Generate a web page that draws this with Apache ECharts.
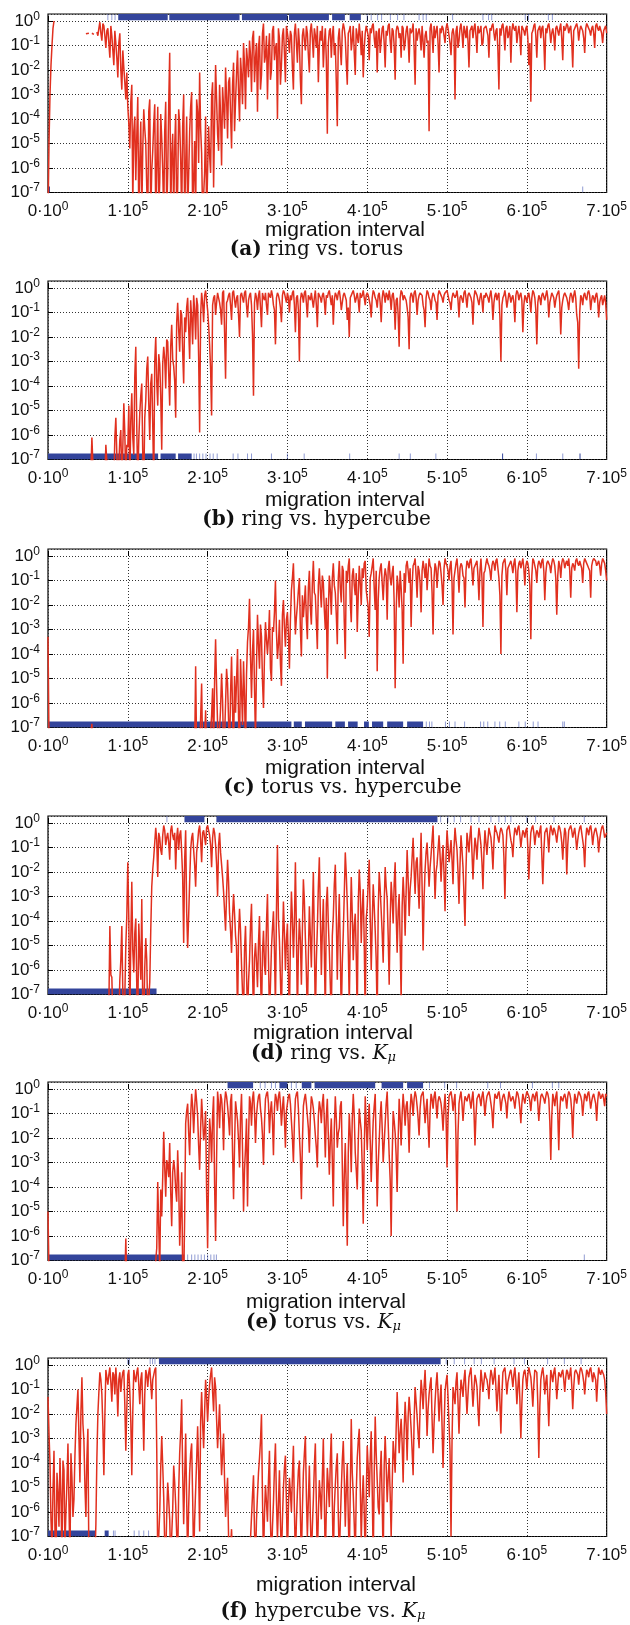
<!DOCTYPE html>
<html><head><meta charset="utf-8">
<script src="https://cdn.jsdelivr.net/npm/echarts@6/dist/echarts.min.js"></script>
<style>html,body{margin:0;padding:0;background:#fff}#chart{width:630px;height:1625px}</style>
</head><body><div id="chart"></div>
<script>
// ---------- DATA ----------
// main arrays: one value every 2500 (x = 0 .. 700000); "Mid" arrays: the values in between (x = 1250 + 2500*i)
const xStep = 2500;
const xTickLabels = ['0·10^0','1·10^5','2·10^5','3·10^5','4·10^5','5·10^5','6·10^5','7·10^5'];
const yTickLabels = ['10^-7','10^-6','10^-5','10^-4','10^-3','10^-2','10^-1','10^0'];
const axisTitle = 'migration interval';
const captionTags = ['(a)','(b)','(c)','(d)','(e)','(f)'];
const captionTexts = ['ring vs. torus','ring vs. hypercube','torus vs. hypercube','ring vs. K_μ','torus vs. K_μ','hypercube vs. K_μ'];

// log10 of p-value; null = no value
const ringTorus = [
-8,-3,-1,0,null,null,null,null,null,null,null,null,null,null,null,null,null,null,null,-0.52,
-0.5,null,-0.5,-0.55,null,-0.6,-0.05,-0.8,-0.2,-1.1,-0.3,-1.5,-0.6,-1.8,-0.9,-2.3,-0.5,-2.8,-1.9,-3.2,
-3.5,-5.2,-2.6,-4.5,-6.5,-3.1,-5.8,-8,-3.6,-5,-8,-3.2,-6.1,-4.2,-8,-3.5,-6.6,-4.8,-8,-3.3,
-6.2,-1.3,-5.5,-8,-3.8,-6.8,-4.2,-8,-3,-5.9,-8,-4.5,-2.9,-6.5,-8,-3.7,-2.1,-5.4,-8,-3.9,
-8,-5.5,-3.1,-6.8,-1.8,-4.6,-2.6,-5.9,-3.5,-1.9,-4.8,-2.3,-5.2,-1.7,-3.3,-1.2,-4.1,-2.2,-0.9,-3.6,
-1.6,-0.8,-2.9,-0.4,-1.5,-3.7,-0.6,-2.2,-0.1,-1.4,-3.2,-0.5,-2,-0.2,-1.1,-4,-0.7,-1.8,-0.3,-2.5,
-0.2,-1.3,-0.6,-2.8,-0.1,-1.7,-0.9,-3.4,-0.3,-1.2,-0.5,-2.1,-0.1,-1.5,-0.6,-0.2,-1.0,-0.8,-1.9,-0.3,
-4.6,-0.4,-1.5,-0.2,-0.9,-4.3,-0.3,-1.8,-0.1,-0.7,-2.6,-0.4,-1.2,-0.2,-2.2,-0.6,-0.1,-1.4,-2.3,-0.5,
-0.2,-1.6,-0.5,-0.1,-1.1,-2.1,-0.3,-0.8,-0.2,-1.9,-0.6,-0.1,-1.3,-0.4,-2.4,-0.2,-0.7,-1.5,-0.3,-0.9,
-0.2,-1.7,-0.5,-0.1,-2.6,-0.8,-0.3,-1.2,-0.2,-0.6,-0.9,-4.5,-0.1,-1.3,-0.7,-0.2,-2.1,-0.5,-0.3,-0.9,
-0.1,-0.6,-1.4,-0.3,-3.2,-0.2,-0.8,-0.1,-1.1,-0.4,-0.2,-1.9,-0.3,-0.7,-0.1,-1.3,-0.5,-0.2,-0.9,-0.3,
-0.2,-1.5,-0.4,-0.1,-0.8,-0.3,-2.8,-0.6,-0.1,-1.2,-0.2,-0.5,-1.7,-0.1,-0.4,-0.9,-0.2,-1.4,-0.3,-0.6,
-0.2,-1.8,-3.3,-0.4,-0.1,-1.5,-0.3,-0.7,-0.2,-2,-0.5,-0.1,-0.9,-0.3,-1.2,-0.2,-0.6,-0.1,-1.6,-0.4,
-0.1,-0.5,-0.2,-1.9,-0.3,-0.1,-0.8,-0.2,-0.4,-1.3,-0.1,-0.3,-0.6,-0.2,-1.1,-0.1,-0.4,-0.2,-0.9,-0.3,
-0.5];
const ringTorusMid = [
-5,-1.8,-0.3,null,null,null,null,null,null,null,null,null,null,null,null,null,null,null,null,-0.5,
-0.5,null,-0.52,null,-0.45,-0.3,-0.5,-0.1,-0.6,-0.4,-0.9,-0.2,-1.2,-0.4,-1.5,-0.9,-2,-1.2,-2.5,-2.1,
-4.2,-3.3,-7.5,-3.9,-4.7,-8,-4.1,-5.2,-4.4,-6.8,-3.7,-8,-5.3,-3.4,-5.9,-8,-3.8,-6.1,-4.5,-8,
-3.4,-8,-4.6,-5.1,-8,-3.6,-5.6,-4.3,-8,-3.9,-6.3,-3.5,-8,-4.9,-3.2,-5.8,-4.4,-8,-6.2,-8,
-4.3,-6.2,-2.5,-4.1,-3.2,-5.3,-3.9,-2.7,-4.4,-3.1,-2.5,-3.8,-2.6,-4.5,-2.1,-2.9,-1.5,-3.4,-1.8,-1.1,
-2.3,-1.4,-0.7,-2.5,-0.9,-1.1,-2.8,-0.5,-1.7,-0.6,-1.2,-2.4,-0.4,-1.6,-0.9,-0.3,-2.6,-0.6,-1.3,-0.2,
-0.8,-0.4,-1.9,-0.5,-0.9,-0.3,-2.4,-0.6,-0.8,-0.2,-1.4,-0.4,-0.7,-0.3,-1.1,-2.5,-0.4,-0.2,-0.9,-1.6,
-0.9,-0.3,-0.6,-1.4,-2.5,-0.7,-1.1,-0.4,-0.3,-1.7,-0.5,-0.2,-0.8,-1.3,-0.3,-0.9,-0.6,-0.4,-1.1,-0.2,
-0.6,-0.3,-0.2,-0.7,-0.4,-0.5,-1.3,-0.3,-0.9,-0.4,-0.2,-0.8,-0.3,-1,-0.4,-0.3,-0.5,-0.2,-1.2,-0.4,
-0.7,-0.3,-0.4,-1.1,-0.3,-0.5,-0.6,-0.2,-1.5,-0.4,-0.8,-0.3,-0.6,-0.2,-0.4,-0.9,-0.3,-0.2,-0.6,-0.3,
-0.3,-0.9,-0.5,-0.6,-0.4,-1.1,-0.3,-0.5,-0.2,-0.7,-0.8,-0.4,-0.2,-0.3,-0.6,-0.2,-0.4,-1,-0.3,-0.2,
-0.6,-0.3,-0.2,-0.5,-0.4,-1.2,-0.3,-0.2,-0.5,-0.3,-0.7,-0.2,-0.4,-0.3,-0.2,-0.5,-0.6,-0.2,-0.4,-0.3,
-0.7,-0.9,-0.5,-0.2,-0.6,-0.4,-0.2,-0.3,-0.8,-0.3,-0.2,-0.4,-0.5,-0.6,-0.3,-0.2,-0.3,-0.7,-0.2,-0.3,
-0.2,-0.3,-0.8,-0.4,-0.2,-0.3,-0.4,-0.2,-0.7,-0.3,-0.2,-0.4,-0.3,-0.5,-0.2,-0.3,-0.2,-0.5,-0.4,-0.2];

const ringHypercube = [
-8,-8,-8,-8,-8,-8,-8,-8,-8,-8,-8,-8,-8,-8,-8,-8,-8,-8,-8,-8,
-8,-8,-6.1,-8,-8,-8,-8,-8,-8,-6.4,-8,-8,-8,-8,-5.3,-8,-6.2,-8,-4.7,-8,
-6.5,-8,-4.3,-6.8,-2.4,-8,-5.1,-3.9,-8,-4.6,-2.8,-6.2,-3.5,-8,-2,-4.8,-3.1,-6.6,-2.4,-4.1,
-2.2,-4.8,-1.5,-3.2,-5.3,-0.6,-2.6,-1.1,-3.9,-1.8,-0.4,-2.9,-1.2,-0.3,-2.1,-0.7,-5.9,-0.2,-1.4,-0.1,
-0.9,-2.3,-5.2,-0.4,-1.1,-0.2,-0.6,-1.5,-0.1,-3.7,-0.5,-0.2,-1.3,-0.1,-0.8,-0.3,-2,-0.2,-0.6,-0.1,
-1.2,-0.3,-0.7,-4.4,-0.2,-0.9,-0.1,-1.6,-0.4,-0.2,-1.1,-0.3,-0.1,-0.7,-2.3,-0.2,-0.5,-1.4,-0.1,-0.4,
-0.2,-1,-0.5,-0.1,-1.8,-0.3,-3,-0.2,-0.6,-0.1,-1.2,-0.4,-0.2,-0.8,-0.1,-1.6,-0.3,-0.6,-0.2,-1.1,
-0.4,-0.1,-0.7,-1.5,-0.2,-0.5,-0.1,-0.9,-0.3,-0.2,-1.3,-2,-0.3,-0.1,-0.6,-0.2,-1,-0.4,-0.1,-0.7,
-0.2,-0.5,-1.2,-0.1,-0.4,-0.8,-0.2,-1.4,-0.1,-0.6,-0.3,-0.1,-0.9,-0.2,-1.7,-0.4,-2.4,-0.1,-0.5,-0.3,
-0.8,-2.5,-0.2,-0.6,-0.1,-1.1,-0.3,-0.2,-0.7,-1.6,-0.1,-0.4,-0.9,-0.2,-0.5,-1.3,-0.1,-0.3,-0.6,-0.2,
-0.1,-0.5,-0.9,-0.2,-0.4,-0.1,-1.2,-0.3,-0.6,-0.1,-0.8,-0.2,-0.4,-1.5,-0.1,-0.3,-0.7,-0.2,-1,-0.4,
-0.2,-0.6,-0.1,-1.3,-0.3,-0.5,-0.2,-3,-0.4,-0.1,-0.8,-0.2,-0.6,-0.3,-1.4,-0.1,-0.5,-0.2,-1.8,-0.3,
-0.6,-0.2,-1,-0.1,-0.4,-2.3,-0.3,-0.7,-0.2,-0.5,-0.1,-1.2,-0.4,-0.2,-0.8,-0.3,-0.1,-1.9,-0.5,-0.2,
-0.4,-0.9,-0.2,-0.6,-0.1,-1.1,-3.3,-0.3,-0.7,-0.2,-0.5,-0.1,-0.9,-0.3,-0.6,-0.2,-1.2,-0.4,-0.7,-0.3,
-1.3];
const ringHypercubeMid = [
-8,-8,-8,-8,-8,-8,-8,-8,-8,-8,-8,-8,-8,-8,-8,-8,-8,-8,-8,-8,
-8,-7.5,-7.2,-8,-8,-8,-8,-8,-7.8,-7.1,-8,-8,-8,-6.1,-6.8,-7.2,-5.8,-6.5,-5.9,-6.4,
-4.8,-5.4,-6.1,-3.6,-5.7,-6.2,-4.4,-6.8,-5.3,-3.3,-4.7,-3.9,-5.6,-3,-3.8,-2.7,-4.4,-3.1,-2.9,-2.1,
-3.5,-2.4,-2.9,-3.8,-1.4,-1.7,-0.9,-2.6,-1.2,-0.8,-1.6,-0.5,-2.3,-0.9,-0.4,-2.8,-1.1,-0.6,-0.3,-0.5,
-1.5,-3.3,-0.7,-0.3,-0.6,-0.4,-0.9,-0.2,-1.8,-0.6,-0.3,-0.7,-0.2,-0.5,-0.4,-1.1,-0.3,-0.4,-0.2,-0.7,
-0.5,-0.2,-1.9,-0.6,-0.4,-0.3,-0.8,-0.2,-0.5,-0.7,-0.2,-0.4,-0.3,-0.9,-0.4,-0.3,-0.8,-0.3,-0.2,-0.6,
-0.4,-0.3,-0.2,-0.7,-0.4,-0.9,-0.5,-0.3,-0.2,-0.6,-0.3,-0.5,-0.2,-0.4,-0.7,-0.2,-0.4,-0.3,-0.5,-0.3,
-0.2,-0.4,-0.3,-0.5,-0.3,-0.2,-0.4,-0.6,-0.2,-0.5,-0.8,-0.4,-0.2,-0.3,-0.4,-0.5,-0.2,-0.3,-0.4,-0.3,
-0.3,-0.7,-0.4,-0.2,-0.5,-0.3,-0.6,-0.4,-0.3,-0.2,-0.5,-0.4,-0.3,-0.6,-0.5,-1.1,-0.4,-0.2,-0.3,-0.5,
-1.2,-0.4,-0.3,-0.2,-0.4,-0.5,-0.2,-0.3,-0.9,-0.4,-0.2,-0.5,-0.4,-0.3,-0.6,-0.3,-0.2,-0.4,-0.3,-0.2,
-0.3,-0.6,-0.4,-0.2,-0.3,-0.5,-0.4,-0.3,-0.2,-0.4,-0.3,-0.2,-0.6,-0.4,-0.2,-0.3,-0.4,-0.5,-0.3,-0.2,
-0.4,-0.3,-0.5,-0.6,-0.2,-0.3,-1.2,-0.7,-0.3,-0.4,-0.5,-0.3,-0.4,-0.6,-0.3,-0.2,-0.3,-0.5,-0.7,-0.4,
-0.3,-0.5,-0.4,-0.2,-0.9,-0.6,-0.4,-0.3,-0.2,-0.3,-0.4,-0.6,-0.2,-0.4,-0.5,-0.2,-0.6,-0.8,-0.3,-0.3,
-0.6,-0.4,-0.3,-0.3,-0.4,-1.4,-1,-0.4,-0.3,-0.4,-0.2,-0.3,-0.5,-0.4,-0.3,-0.5,-0.6,-0.3,-0.5,-0.6];

const torusHypercube = [
-3.3,-8,-8,-8,-8,-8,-8,-8,-8,-8,-8,-8,-8,-8,-8,-8,-8,-8,-8,-8,
-8,-8,-6.85,-8,-8,-8,-8,-8,-8,-8,-8,-8,-8,-8,-8,-8,-8,-8,-8,-8,
-8,-8,-8,-8,-8,-8,-8,-8,-8,-8,-8,-8,-8,-8,-8,-8,-8,-8,-8,-8,
-8,-8,-8,-8,-8,-8,-8,-8,-8,-8,-8,-8,-8,-8,-4.5,-8,-8,-5.2,-8,-6.3,
-8,-8,-6.5,-8,-3.4,-6.9,-8,-4.8,-8,-6,-5.2,-8,-4.1,-8,-6.4,-3.8,-8,-5.5,-4.3,-8,
-3.5,-1.75,-5.8,-3,-7.5,-2.4,-4.6,-3.3,-6.2,-2.7,-4,-2.2,-5.1,-3.1,-1,-4.2,-2.6,-5.3,-1.8,-3.7,
-2.3,-4.6,-1.4,-0.3,-3.2,-2,-0.9,-4.1,-2.5,-1.2,-3.4,-0.6,-2.8,-0.2,-1.6,-3.8,-0.5,-2.1,-1.1,-3,
-5,-0.8,-2.4,-0.3,-1.5,-3.6,-0.2,-1.9,-0.6,-4.2,-1.1,-0.1,-2.7,-0.5,-1.6,-3.1,-0.4,-2,-0.9,-0.2,
-1.4,-3.3,-0.7,-0.1,-2.2,-4.7,-0.9,-0.3,-1.8,-0.5,-2.6,-0.2,-1.2,-0.4,-5.4,-0.8,-2.1,-1.3,-4.4,-1.5,
-0.2,-1.1,-2.9,-0.4,-0.1,-1.7,-0.6,-2.3,-0.2,-0.9,-1.4,-0.1,-0.5,-3.2,-0.3,-1.3,-0.2,-0.7,-2,-0.1,
-0.4,-1,-0.2,-3.2,-0.6,-0.1,-1.5,-0.3,-0.8,-2.1,-0.2,-0.5,-0.1,-1.2,-0.4,-0.2,-1.8,-0.1,-2.9,-0.6,
-0.1,-0.4,-1,-0.2,-0.6,-0.1,-0.9,-4,-0.3,-0.1,-1.6,-0.4,-0.2,-0.7,-0.1,-2.3,-0.3,-0.5,-0.1,-1.2,
-0.2,-0.6,-3.4,-0.1,-0.4,-1.1,-0.2,-0.5,-0.1,-1.8,-0.3,-0.2,-0.7,-0.1,-0.4,-2.4,-0.2,-0.9,-0.1,-0.5,
-0.2,-0.1,-1.7,-0.3,-0.6,-0.1,-0.4,-0.2,-1.1,-0.1,-0.3,-0.5,-1.7,-0.2,-0.1,-0.4,-0.2,-0.8,-0.1,-0.3,
-1.0];
const torusHypercubeMid = [
-7.5,-8,-8,-8,-8,-8,-8,-8,-8,-8,-8,-8,-8,-8,-8,-8,-8,-8,-8,-8,
-8,-8,-8,-8,-8,-8,-8,-8,-8,-8,-8,-8,-8,-8,-8,-8,-8,-8,-8,-8,
-8,-8,-8,-8,-8,-8,-8,-8,-8,-8,-8,-8,-8,-8,-8,-8,-8,-8,-8,-8,
-8,-8,-8,-8,-8,-8,-8,-8,-8,-8,-8,-8,-8,-8,-8,-8,-8,-8,-7.5,-8,
-8,-7.2,-5.4,-5.1,-5.3,-8,-6.2,-5.9,-7.4,-4.6,-6.7,-5.6,-6.3,-4.9,-5.1,-6.6,-4.2,-6.9,-5.7,-4.8,
-2.9,-4.1,-3.9,-5.4,-4.5,-3.6,-2.8,-5.1,-4.1,-3.4,-3.3,-4.6,-2.9,-2.3,-3.1,-3.6,-4.4,-2.4,-2.9,-2.6,
-3.2,-2.6,-0.9,-1.8,-2.5,-1.4,-3,-1.6,-1.9,-2.6,-1.3,-2.1,-1.1,-1.5,-2.7,-1.2,-1.4,-0.8,-2.2,-1.7,
-2.2,-1.4,-0.9,-1.2,-2.4,-0.9,-1.3,-0.4,-2.7,-0.6,-0.4,-1.9,-0.8,-1.2,-0.7,-1.6,-1.1,-0.5,-0.3,-1.4,
-2.1,-0.9,-0.4,-1.3,-0.6,-1.8,-0.5,-1.1,-0.9,-0.8,-0.5,-0.9,-0.7,-1.9,-2.3,-1.2,-0.6,-2.2,-0.7,-0.4,
-0.6,-0.5,-1.2,-0.3,-0.8,-0.4,-1.1,-0.6,-0.5,-0.3,-0.7,-0.4,-1.5,-0.9,-0.5,-0.6,-0.3,-1.2,-0.5,-0.3,
-0.6,-0.4,-1.1,-0.9,-0.3,-0.7,-0.5,-0.4,-0.9,-0.6,-0.3,-0.2,-0.6,-0.5,-0.3,-0.8,-0.6,-0.9,-0.7,-0.3,
-0.3,-0.6,-0.4,-0.3,-0.2,-0.5,-1.6,-0.8,-0.2,-0.6,-0.5,-0.3,-0.4,-0.3,-0.7,-0.6,-0.2,-0.3,-0.5,-0.4,
-0.3,-1.2,-0.8,-0.2,-0.6,-0.4,-0.3,-0.2,-0.6,-0.7,-0.2,-0.4,-0.3,-0.2,-0.9,-0.8,-0.4,-0.3,-0.2,-0.3,
-0.4,-0.6,-0.5,-0.4,-0.2,-0.3,-0.2,-0.5,-0.3,-0.2,-0.4,-0.6,-0.4,-0.1,-0.2,-0.3,-0.4,-0.3,-0.2,-0.6];

const ringK = [
-8,-8,-8,-8,-8,-8,-8,-8,-8,-8,-8,-8,-8,-8,-8,-8,-8,-8,-8,-8,
-8,-8,-8,-8,-8,-8,-8,-8,-8,-8,-8,-4.2,-6.3,-8,-8,-8,-6.4,-4.2,-8,-5,
-1.6,-8,-2.4,-6.1,-3.9,-8,-5.3,-3.1,-8,-4.7,-8,-6.5,-2.6,-1.4,-0.2,-2.2,-0.6,-1.3,-0.1,-0.9,
-0.4,-1.5,-0.1,-0.7,-1.9,-0.2,-0.5,-1.2,-4.9,-0.3,-5.1,-2.4,-0.6,-1.1,-2.6,-0.8,-0.1,-1.6,-0.3,-0.9,
-0.1,-0.5,-1.8,-0.2,-0.9,-3,-0.4,-1.7,-2.8,-4.4,-1.5,-3.7,-5.3,-2.9,-4.6,-8,-3.5,-5.8,-8,-4.2,
-8,-5.6,-3.3,-8,-4.9,-6.7,-3.8,-8,-4.4,-6.2,-2.9,-8,-5.1,-3.6,-7.6,-0.9,-4.8,-8,-3.2,-6,
-4.1,-8,-2.8,-5.5,-1.6,-8,-3.9,-6.6,-2.3,-4.7,-8,-3.4,-5.9,-2,-8,-4.3,-1.4,-6.2,-3.1,-8,
-2.6,-5.2,-8,-3.8,-1.7,-6.4,-2.9,-8,-4.5,-1.2,-3.3,-7.5,-2.2,-5.6,-3.7,-8,-1.9,-4.9,-2.7,-8,
-3.4,-1.5,-6,-2.5,-4.4,-8,-2,-3.6,-5.7,-1.8,-3.1,-6.6,-2.4,-4.1,-1.6,-5.3,-2.9,-7.2,-2.2,-4.6,
-1.1,-3.8,-2.2,-0.6,-2.9,-1.4,-3.5,-0.4,-5.2,-1.9,-0.8,-2.6,-1.3,-0.1,-3.1,-1.7,-0.5,-2.4,-0.9,-3.6,
-0.3,-1.6,-0.7,-2.5,-0.2,-1.1,-3.3,-0.5,-1.8,-4.2,-0.4,-1.2,-0.1,-2.3,-0.6,-1.5,-0.2,-0.9,-2.7,-0.3,
-1.3,-0.2,-0.6,-1.9,-0.1,-0.4,-0.8,-0.2,-0.5,-3.1,-0.3,-0.1,-0.7,-1.4,-0.2,-0.5,-0.1,-1,-0.3,-0.6,
-0.2,-2.3,-0.4,-0.1,-0.9,-0.3,-0.6,-0.1,-2.5,-0.4,-0.2,-1.2,-0.1,-0.5,-0.3,-0.8,-0.1,-0.4,-1.5,-0.2,
-2.1,-0.3,-0.1,-0.6,-0.2,-1.1,-0.4,-0.1,-0.7,-1.8,-0.2,-0.5,-0.1,-0.9,-0.3,-0.2,-1.2,-0.4,-0.1,-0.6,
-0.4];
const ringKMid = [
-8,-8,-8,-8,-8,-8,-8,-8,-8,-8,-8,-8,-8,-8,-8,-8,-8,-8,-8,-8,
-8,-8,-8,-8,-8,-8,-8,-8,-8,-8,-7.6,-6.2,-8,-8,-8,-8,-5.6,-6.9,-7.1,-3.8,
-3.9,-4.8,-5.2,-4.5,-6.7,-4.1,-6.4,-7.5,-5.9,-5.6,-7.2,-4.4,-1.9,-0.8,-0.7,-0.4,-1.1,-0.5,-0.3,-0.6,
-0.8,-0.3,-0.5,-0.4,-0.6,-1.1,-0.3,-2.2,-1.5,-3.6,-3.8,-1.1,-0.4,-1.7,-1.2,-0.3,-0.7,-0.4,-0.6,-0.2,
-0.3,-0.9,-0.6,-0.4,-1.7,-0.9,-1.2,-2.2,-3.6,-2.9,-2.4,-4.4,-3.8,-3.7,-5.1,-4.6,-4.4,-6.9,-5.2,-6.1,
-6.5,-4.2,-5.9,-5.5,-5.7,-4.9,-6.1,-5.3,-5.8,-4.1,-5.5,-6.6,-4.3,-5.2,-3.6,-3.9,-6.4,-5.1,-4.5,-4.8,
-6.2,-4.7,-3.9,-4.1,-4.3,-5.2,-4.8,-4.4,-3.2,-6.1,-5.4,-4.6,-3.8,-4.9,-5.6,-2.6,-3.7,-4.4,-5.2,-3.3,
-4.1,-6.6,-4.6,-2.5,-3.8,-4.3,-5.3,-5.7,-2.9,-2.1,-5,-4.4,-3.7,-4.2,-5.4,-3.3,-2.8,-3.5,-4.9,-3.9,
-2.4,-3.9,-4.1,-3.4,-5.6,-3.6,-2.7,-4.5,-3.3,-2.6,-4.6,-3.9,-3.1,-2.5,-3.7,-3.6,-4.9,-3.4,-3.1,-2.8,
-2.3,-2.7,-1.4,-1.9,-1.6,-2.5,-1.8,-2.6,-3.1,-1.2,-1.7,-1.8,-0.7,-1.6,-2,-1.1,-1.3,-1.5,-2.1,-1.4,
-0.9,-1.2,-1.5,-1,-0.7,-2,-1.7,-1.1,-2.9,-1.9,-0.8,-0.5,-1.2,-1.3,-0.9,-0.7,-0.5,-1.6,-1.2,-0.8,
-0.7,-0.4,-1.1,-0.8,-0.3,-0.6,-0.4,-0.3,-1.4,-1.2,-0.2,-0.4,-0.9,-0.6,-0.3,-0.2,-0.5,-0.6,-0.4,-0.3,
-1,-1.1,-0.2,-0.4,-0.5,-0.4,-0.3,-1.3,-1.2,-0.3,-0.6,-0.4,-0.3,-0.2,-0.5,-0.4,-0.2,-0.8,-0.7,-0.4,
-0.9,-0.2,-0.3,-0.4,-0.6,-0.7,-0.2,-0.4,-1,-0.7,-0.3,-0.2,-0.4,-0.5,-0.2,-0.6,-0.7,-0.2,-0.3,-0.5];

const torusK = [
-5,-8,-8,-8,-8,-8,-8,-8,-8,-8,-8,-8,-8,-8,-8,-8,-8,-8,-8,-8,
-8,-8,-8,-8,-8,-8,-8,-8,-8,-8,-8,-8,-8,-8,-8,-8,-8,-8,-8,-6.1,
-8,-8,-8,-8,-8,-8,-8,-8,-8,-8,-8,-8,-8,-8,-8,-3.8,-7.5,-5.2,-1.75,-4.4,
-3.1,-2.2,-5.6,-2.9,-4.1,-2.5,-6.4,-3.4,-8,-1.4,-0.6,-2.7,-0.2,-1.8,0,-1.1,-3.3,-0.4,-2.1,-0.9,
-6.5,-1.2,-3,-0.3,-6.2,-0.1,-1.6,-0.4,-2.5,-0.1,-0.7,-1.9,-0.2,-4.5,-0.5,-1.3,-3.2,-0.2,-5,-2.4,
-4.8,-0.3,-1.5,-0.1,-2.2,-0.6,-0.2,-1.2,-3.1,-0.4,-0.1,-1.8,-0.5,-2.7,-0.2,-0.9,-0.1,-1.5,-0.3,-2.4,
-0.6,-0.2,-1.3,-3,-0.4,-0.1,-1.9,-4.5,-0.7,-0.2,-1.1,-2.6,-0.3,-0.8,-1.9,-3.2,-0.5,-1.4,-0.2,-2.8,
-0.4,-3.5,-1.2,-4.8,-0.3,-2.4,-1.6,-0.5,-5.6,-2.2,-6.4,-1,-3.4,-0.2,-2.6,-4.1,-0.8,-1.7,-5.5,-0.3,
-2.5,-0.6,-3.8,-1.3,-0.2,-4.8,-2.1,-0.5,-3,-1.4,-0.1,-2.7,-6,-0.9,-1.8,-4.2,-0.4,-2.3,-0.2,-1.5,
-0.5,-2.6,-0.2,-1.1,-0.1,-0.7,-1.9,-0.3,-0.1,-1.4,-0.4,-2.4,-0.2,-0.8,-0.1,-1.2,-0.3,-0.6,-1.7,-0.2,
-3.2,-0.3,-0.1,-0.9,-0.2,-5,-0.6,-0.1,-1.3,-0.3,-0.5,-0.2,-0.8,-0.1,-2.3,-0.4,-0.2,-0.7,-0.1,-1.1,
-0.3,-0.1,-0.6,-1.6,-0.2,-0.4,-0.1,-0.9,-0.3,-0.2,-1.2,-0.1,-0.5,-0.3,-0.8,-0.1,-0.4,-1.4,-0.2,-0.6,
-0.1,-0.3,-0.9,-0.2,-0.5,-0.1,-1.3,-0.3,-0.2,-0.6,-0.1,-0.4,-2.9,-0.2,-0.7,-0.1,-2.5,-0.3,-0.5,-0.2,
-0.8,-0.1,-0.4,-2,-0.2,-0.6,-0.1,-0.3,-1.1,-0.2,-0.5,-0.1,-0.8,-0.3,-0.2,-1.3,-0.1,-0.4,-0.2,-0.7,
-0.3];
const torusKMid = [
-7.5,-8,-8,-8,-8,-8,-8,-8,-8,-8,-8,-8,-8,-8,-8,-8,-8,-8,-8,-8,
-8,-8,-8,-8,-8,-8,-8,-8,-8,-8,-8,-8,-8,-8,-8,-8,-8,-8,-8,-8,
-8,-8,-8,-8,-8,-8,-8,-8,-8,-8,-8,-8,-8,-8,-6.5,-5.6,-4.1,-3.6,-3.2,-2.9,
-3.6,-4.2,-3.4,-3.3,-4.6,-3.8,-5.1,-7.5,-5.2,-0.9,-1.8,-1.1,-0.7,-0.8,-0.5,-2.3,-1.6,-1.2,-1.7,-4.2,
-3.4,-1.8,-1.1,-3.9,-2.8,-0.6,-0.2,-1,-0.6,-0.3,-1.2,-0.5,-2.6,-2.3,-0.9,-2.1,-1.1,-2.5,-3.3,-1.2,
-2.1,-0.6,-0.4,-0.9,-1.1,-0.3,-0.8,-1.9,-1.4,-0.2,-0.6,-0.9,-1.3,-0.8,-0.4,-0.3,-0.6,-0.8,-1.2,-0.9,
-0.3,-0.6,-2,-1.4,-0.2,-0.8,-2.8,-2.2,-0.4,-0.6,-1.6,-1.1,-0.5,-1.3,-2.4,-1.1,-0.8,-0.6,-1.3,-1.1,
-1.9,-2.1,-2.9,-1.6,-1.2,-1.8,-0.7,-3.1,-3.5,-4.1,-2.6,-1.9,-1.2,-1.1,-3.3,-2.2,-1.3,-3.2,-2.6,-1.4,
-1.3,-2.1,-2.4,-0.7,-2.5,-3.1,-1.1,-1.6,-2.2,-0.6,-1.4,-3.7,-2.8,-1.3,-2.7,-2.1,-1.2,-1,-0.8,-0.7,
-1.3,-0.9,-0.5,-0.4,-0.3,-1.2,-0.8,-0.2,-0.7,-0.8,-1.5,-0.9,-0.4,-0.3,-0.6,-0.5,-0.4,-1,-0.8,-1.1,
-1.2,-0.2,-0.4,-0.5,-2.1,-1.8,-0.3,-0.6,-0.7,-0.4,-0.3,-0.5,-0.4,-0.9,-1.1,-0.3,-0.4,-0.3,-0.5,-0.6,
-0.2,-0.3,-0.9,-0.7,-0.3,-0.2,-0.4,-0.5,-0.2,-0.6,-0.5,-0.3,-0.4,-0.5,-0.4,-0.2,-0.8,-0.6,-0.4,-0.3,
-0.2,-0.5,-0.4,-0.3,-0.2,-0.6,-0.7,-0.2,-0.4,-0.3,-0.2,-1.3,-1.1,-0.4,-0.3,-1,-0.9,-0.4,-0.3,-0.4,
-0.3,-0.2,-0.9,-0.8,-0.4,-0.3,-0.2,-0.5,-0.6,-0.3,-0.2,-0.4,-0.5,-0.2,-0.6,-0.5,-0.2,-0.3,-0.4,-0.2];

const hypercubeK = [
-1.3,-4,-7.5,-3.5,-8,-5.2,-3.8,-8,-4.3,-6,-3.2,-8,-4.6,-5.5,-2.4,-1,-4.8,-0.5,-3.1,-6.2,
-2.6,-8,-8,-8,-6.5,-2,-0.3,-1.2,-4.5,-0.2,-0.8,-0.1,-1.5,-0.4,-0.1,-2.1,-0.3,-0.6,-0.2,-3.5,
-0.4,-1.1,-4.5,-0.2,-0.7,-0.1,-1.6,-0.3,-3.5,-0.2,-0.9,-0.1,-1.4,-0.4,-0.1,-8,-6,-2.9,-5.4,-8,
-4.8,-6.3,-8,-4.1,-5.7,-8,-3.6,-1.4,-6.5,-2.8,-8,-4.4,-3.2,-8,-5.1,-2.5,-6.8,-1.1,-3.4,-0.6,
-2.3,-0.8,-0.1,-1.9,-0.9,-3.4,-1.6,-4.5,-2.8,-6.2,-4.6,-8,-6.7,-8,-8,-8,-8,-8,-8,-8,
-8,-8,-6.2,-4.5,-8,-5.3,-3.8,-2,-8,-4.9,-6.4,-3.5,-8,-5.6,-3.2,-7.1,-4.3,-8,-5,-3.7,
-8,-4.6,-6,-3.3,-8,-5.2,-3.9,-8,-4.4,-2.9,-7,-4.1,-8,-5.5,-3.2,-8,-4.7,-6.3,-3,-8,
-4.2,-5.8,-2.8,-8,-4.9,-3.6,-8,-5.1,-3.1,-6.6,-4,-8,-2.2,-5.3,-8,-3.8,-2.6,-7.2,-4.5,-8,
-3.3,-5.4,-2.7,-8,-2.1,-4.7,-6.1,-3.5,-8,-2.9,-5.6,-3.8,-7,-3.1,-4.4,-1.1,-3.6,-2.2,-4.8,-1.5,
-3.9,-1.3,-2.6,-4.5,-0.9,-2.1,-3.4,-0.6,-1.8,-0.2,-2.9,-1.2,-0.5,-3.6,-1.5,-0.3,-2.3,-0.8,-4.2,-1.1,
-0.4,-2.4,-7,-0.9,-1.6,-0.3,-2.8,-0.6,-1.3,-0.2,-2,-0.5,-0.1,-1.7,-0.4,-0.9,-2.5,-0.2,-1.1,-0.3,
-0.6,-1.4,-0.2,-0.8,-0.1,-1.9,-0.4,-2.8,-0.3,-0.1,-1.2,-0.5,-0.2,-0.9,-0.1,-1.6,-0.3,-3,-0.6,-0.2,
-1,-0.1,-0.5,-1.7,-0.2,-0.3,-3.8,-0.6,-0.1,-1.2,-0.4,-2.5,-0.2,-0.7,-0.1,-1.4,-0.3,-0.5,-0.2,-1.1,
-0.2,-0.6,-0.1,-1.8,-0.3,-0.2,-0.8,-0.1,-0.4,-1.2,-0.2,-0.5,-0.1,-0.7,-0.3,-1.5,-0.1,-0.4,-0.2,-0.6,
-2.0];
const hypercubeKMid = [
-2.8,-6.3,-5.1,-6.8,-4.4,-6.6,-5.3,-3.9,-7.4,-4.8,-5.7,-3.6,-6.2,-3.7,-1.7,-2.9,-1.9,-2.4,-4.9,-3.8,
-8,-8,-8,-8,-3.8,-1.1,-0.6,-2.5,-2.1,-0.5,-0.4,-0.7,-0.3,-1.2,-0.8,-0.6,-1.1,-0.3,-1.6,-1.8,
-0.2,-2.3,-1.9,-0.5,-0.3,-0.8,-0.6,-1.7,-1.2,-0.4,-0.3,-0.7,-0.6,-0.2,-3.4,-8,-4.2,-4.1,-7.3,-6.1,
-5.5,-8,-5.9,-4.8,-6.9,-5.1,-2.7,-4.4,-4.6,-5.5,-5.8,-3.6,-5.4,-6.3,-3.9,-4.3,-2.3,-2.4,-1.9,-1.3,
-1.4,-0.4,-1.1,-0.5,-2.2,-2.5,-3.1,-3.6,-4.7,-5.3,-7,-7.4,-8,-8,-8,-8,-8,-8,-8,-8,
-8,-7.1,-5.3,-6.8,-6.3,-4.4,-3.1,-5.4,-6.1,-5.6,-4.7,-6.4,-6.6,-4.2,-5.5,-5.7,-6.4,-6.3,-4.2,-5.6,
-5.8,-5.2,-4.5,-5.9,-6.4,-4.3,-6.1,-5.9,-3.6,-5.3,-5.5,-6.2,-6.6,-4.1,-5.7,-6.1,-5.3,-4.6,-5.6,-5.9,
-4.9,-3.9,-5.6,-5.8,-4.1,-6.1,-6.4,-3.9,-4.6,-5.1,-6.2,-5.1,-4.4,-6.5,-5.2,-3.1,-4.9,-5.5,-6,-5.4,
-4.2,-3.8,-5.1,-4.5,-3.6,-5.8,-4.4,-5.6,-4.1,-4.1,-4.6,-5.3,-4.9,-3.7,-2.6,-2.3,-2.8,-3.2,-2.7,-2.4,
-2.1,-1.9,-3.5,-2.3,-1.5,-2.8,-1.7,-1.1,-0.9,-1.4,-1.8,-0.8,-2.2,-2.4,-0.8,-1.2,-1.4,-2.5,-2.6,-0.7,
-1.3,-3.5,-3.1,-1.2,-0.7,-1.5,-1.4,-0.9,-0.6,-1.1,-1.2,-0.3,-0.9,-1,-0.6,-1.8,-1.1,-0.6,-0.7,-0.5,
-0.9,-0.6,-0.4,-0.5,-0.9,-1.1,-1.5,-1.2,-0.2,-0.6,-0.7,-0.3,-0.5,-0.4,-0.7,-0.9,-1.4,-1.6,-0.3,-0.5,
-0.4,-0.3,-1,-0.8,-0.2,-1.6,-1.7,-0.3,-0.5,-0.7,-1.3,-1.2,-0.4,-0.3,-0.6,-0.8,-0.4,-0.3,-0.6,-0.5,
-0.3,-0.4,-0.8,-0.9,-0.2,-0.4,-0.3,-0.2,-0.7,-0.6,-0.3,-0.2,-0.4,-0.3,-0.6,-0.7,-0.3,-0.2,-0.4,-1.1];

// blue rug marks: [from, to] on the migration-interval axis (from == to: a single mark)
const ringTorusRugTop = [[75000,75000],[80000,80000],[84000,84000],[88000,150000],[152000,240000],[243000,300000],[302000,352000],[356000,372000],[378000,392000],
  [400000,400000],[405000,405000],[413000,413000],[418000,418000],[429000,429000],[438000,438000],[446000,446000],[465000,465000],[470000,470000],[474000,474000],
  [507000,507000],[545000,545000],[552000,552000],[556000,556000],[598000,598000],[602000,602000],[627000,627000],[632000,632000]];
const ringTorusRugBottom = [[0,2500],[670000,670000]];
const ringHypercubeRugTop = [];
const ringHypercubeRugBottom = [[0,138000],[141000,160000],[163000,180000],[183000,183000],[186000,186000],[190000,190000],[194000,194000],[198000,198000],
  [203000,203000],[207000,207000],[212000,212000],[232000,232000],[238000,238000],[250000,250000],[255000,255000],[280000,280000],[300000,300000],[321000,321000],
  [378000,378000],[440000,440000],[454000,454000],[486000,486000],[569000,570000],[612000,612000],[645000,645000],[666000,667000]];
const torusHypercubeRugTop = [];
const torusHypercubeRugBottom = [[0,305000],[308000,318000],[322000,356000],[360000,372000],[376000,388000],[396000,402000],[406000,420000],[425000,445000],[450000,470000],
  [474000,474000],[478000,478000],[481000,481000],[498000,498000],[503000,503000],[510000,510000],[522000,522000],[542000,542000],[546000,546000],[551000,551000],
  [560000,560000],[566000,566000],[573000,573000],[590000,590000],[598000,598000],[608000,608000],[614000,614000],[645000,645000],[647000,647000]];
const ringKRugTop = [[149000,149000],[171000,196000],[211000,488000],[492000,492000],[501000,501000],[509000,509000],[517000,517000],[530000,530000],[540000,540000],
  [555000,555000],[565000,565000],[573000,573000],[580000,580000],[600000,600000],[611000,611000],[634000,634000],[672000,672000]];
const ringKRugBottom = [[0,136000]];
const torusKRugTop = [[225000,257000],[266000,266000],[272000,272000],[280000,280000],[285000,285000],[290000,300000],[305000,305000],[311000,311000],[318000,330000],
  [334000,410000],[418000,445000],[450000,470000],[478000,478000],[497000,497000],[512000,512000],[551000,551000],[567000,567000],[607000,607000],[632000,632000],[640000,640000]];
const torusKRugBottom = [[0,171000],[175000,175000],[180000,180000],[184000,184000],[188000,188000],[192000,192000],[196000,196000],[200000,200000],[204000,204000],
  [208000,208000],[211000,211000],[672000,672000]];
const hypercubeKRugTop = [[100000,100000],[102000,102000],[128000,128000],[131000,131000],[134000,134000],[139000,492000],[499000,499000],[509000,509000],[522000,522000],
  [534000,534000],[543000,543000],[559000,559000],[584000,584000],[597000,597000],[626000,626000],[647000,647000],[668000,668000]];
const hypercubeKRugBottom = [[0,59000],[71000,76000],[82000,82000],[84000,84000],[108000,108000],[114000,114000],[120000,120000],[126000,126000]];

const panelSeries = [ringTorus, ringHypercube, torusHypercube, ringK, torusK, hypercubeK];
const panelSeriesMid = [ringTorusMid, ringHypercubeMid, torusHypercubeMid, ringKMid, torusKMid, hypercubeKMid];
const panelRugTop = [ringTorusRugTop, ringHypercubeRugTop, torusHypercubeRugTop, ringKRugTop, torusKRugTop, hypercubeKRugTop];
const panelRugBottom = [ringTorusRugBottom, ringHypercubeRugBottom, torusHypercubeRugBottom, ringKRugBottom, torusKRugBottom, hypercubeKRugBottom];

// ---------- LAYOUT ----------
const gridTops = [14, 281, 549, 816, 1082, 1358];
const gridH = 178.5;
const nameX = [345, 345, 345, 333, 326, 336];
const nameY = [230, 500, 768, 1033, 1302, 1585];
const capX = [316.5, 316.5, 342.5, 323.5, 323.5, 323];
const capY = [250, 520, 788, 1054, 1323, 1612];
const Y_MIN = -7, Y_MAX = 0.286;
const SANS = '"Liberation Sans", Arial, sans-serif';
const SERIF = '"DejaVu Serif", serif';
const RED = '#e1301f';

function supText(s) {
  const k = s.indexOf('^');
  return '{m|' + s.slice(0, k) + '}{s|' + s.slice(k + 1) + '}';
}
const tickRich = {
  m: { fontSize: 17, fontFamily: SANS, color: '#111' },
  s: { fontSize: 12, fontFamily: SANS, color: '#111', padding: [0, 0, 9, 0] }
};

function captionRich(tag, txt) {
  let out = '{b|' + tag + '}{r| ';
  const k = txt.indexOf('K_');
  if (k >= 0) out += txt.slice(0, k) + '}{i|K}{u|' + txt.slice(k + 2) + '}';
  else out += txt + '}';
  return out;
}

function seriesPoints(main, mid) {
  const pts = [];
  main.forEach((v, i) => {
    pts.push([i * xStep, v]);
    if (i < mid.length) pts.push([i * xStep + xStep / 2, mid[i]]);
  });
  return pts;
}

const grids = [], xAxes = [], yAxes = [], series = [], graphics = [];
for (let p = 0; p < 6; p++) {
  grids.push({ left: 48, right: 23, top: gridTops[p], height: gridH, show: true,
    borderColor: '#000', borderWidth: 1.2, backgroundColor: 'transparent' });
  xAxes.push({
    gridIndex: p, type: 'value', min: 0, max: 700000, interval: 100000,
    axisLine: { show: false },
    axisTick: { show: true, inside: true, length: 5, lineStyle: { color: '#000' } },
    splitLine: { show: true, lineStyle: { color: '#333', width: 1, type: [1, 2] } },
    axisLabel: { margin: 8, formatter: v => supText(xTickLabels[Math.round(v / 100000)] || ''), rich: tickRich }
  });
  yAxes.push({
    gridIndex: p, type: 'value', min: Y_MIN, max: Y_MAX, interval: 1,
    axisLine: { show: false },
    axisTick: { show: true, inside: true, length: 5, lineStyle: { color: '#000' } },
    splitLine: { show: true, lineStyle: { color: '#333', width: 1, type: [1, 2] } },
    axisLabel: { margin: 8, showMaxLabel: false,
      formatter: v => { const r = Math.round(v); if (Math.abs(v - r) > 1e-6) return ''; return supText(yTickLabels[r - Y_MIN]); },
      rich: tickRich }
  });
  const strips = [[panelRugTop[p], 0.03, Y_MAX], [panelRugBottom[p], Y_MIN, -6.75]];
  strips.forEach(([rug, y0, y1]) => {
    series.push({
      type: 'custom', xAxisIndex: p, yAxisIndex: p, z: 2, clip: true,
      data: rug,
      encode: { x: [0, 1] },
      renderItem: (params, api) => {
        const a = api.coord([api.value(0), y1]);
        const b = api.coord([api.value(1), y0]);
        const single = api.value(1) - api.value(0) < 1;
        const w = Math.max(1, b[0] - a[0]);
        return { type: 'rect', shape: { x: a[0] - (single ? 0.5 : 0), y: a[1], width: w, height: b[1] - a[1] },
          style: { fill: single ? 'rgba(55,75,175,0.55)' : '#33449b' } };
      }
    });
  });
  series.push({
    type: 'line', xAxisIndex: p, yAxisIndex: p, z: 3, showSymbol: false, symbol: 'none',
    connectNulls: false, clip: true, animation: false,
    lineStyle: { color: RED, width: 1.5 },
    data: seriesPoints(panelSeries[p], panelSeriesMid[p])
  });
  graphics.push({ type: 'text', x: nameX[p], y: nameY[p],
    style: { text: axisTitle, font: '21px ' + SANS, fill: '#111', align: 'center', verticalAlign: 'middle' } });
  graphics.push({ type: 'text', x: capX[p], y: capY[p],
    style: { text: captionRich(captionTags[p], captionTexts[p]), align: 'center', verticalAlign: 'middle', fill: '#111',
      rich: {
        b: { fontFamily: SERIF, fontWeight: 'bold', fontSize: 20, fill: '#111' },
        r: { fontFamily: SERIF, fontSize: 20, fill: '#111' },
        i: { fontFamily: SERIF, fontStyle: 'italic', fontSize: 20, fill: '#111' },
        u: { fontFamily: SERIF, fontStyle: 'italic', fontSize: 13, fill: '#111', padding: [8, 0, 0, 0] }
      } } });
}

const chart = echarts.init(document.getElementById('chart'), null, { renderer: 'canvas' });
chart.setOption({
  animation: false,
  backgroundColor: '#fff',
  grid: grids, xAxis: xAxes, yAxis: yAxes, series: series, graphic: graphics
});
</script>
</body></html>
